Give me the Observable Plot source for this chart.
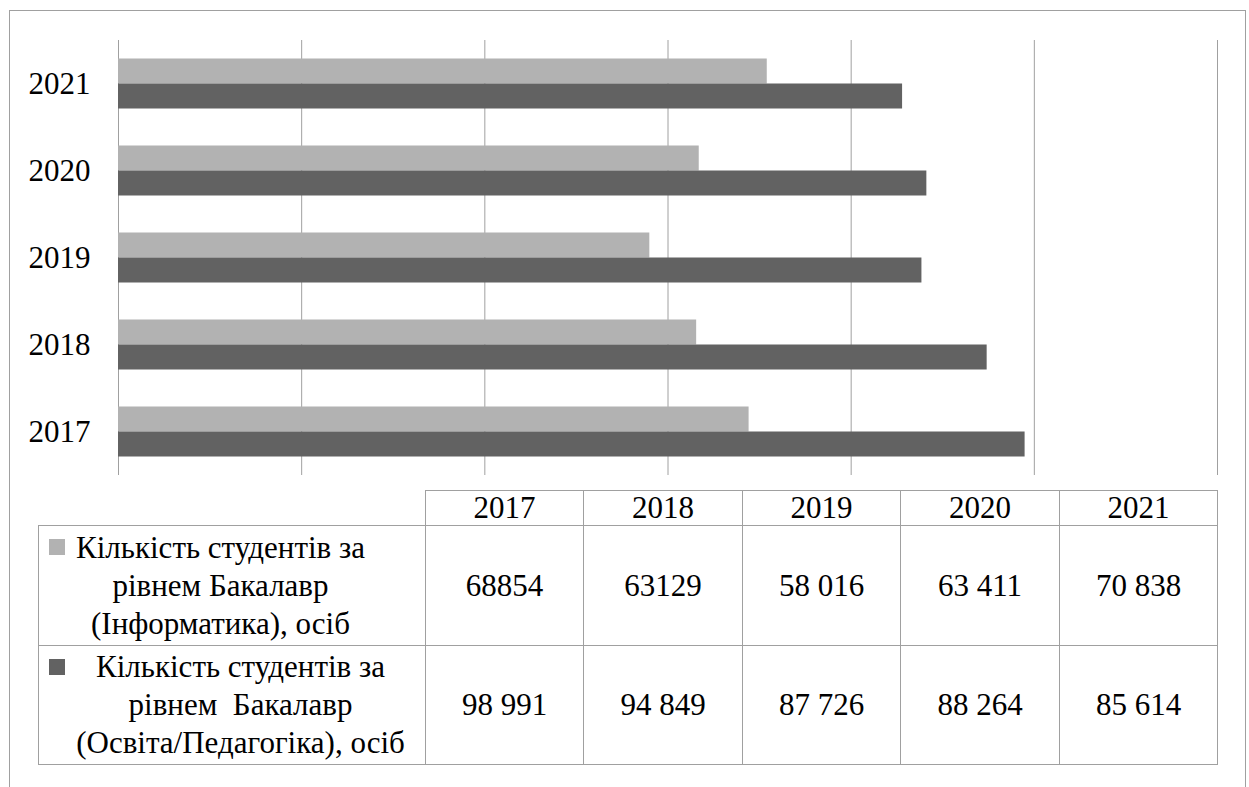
<!DOCTYPE html>
<html>
<head>
<meta charset="utf-8">
<script src="https://cdn.jsdelivr.net/npm/d3@7"></script>
<script src="https://cdn.jsdelivr.net/npm/@observablehq/plot@0.6"></script>
<style>
  html, body { margin: 0; padding: 0; background: #fff; }
  body { width: 1249px; height: 787px; position: relative; overflow: hidden; font-family: "Liberation Serif", "Times New Roman", serif; }
  #frame { position: absolute; left: 9px; top: 10px; width: 1237px; height: 800px; border: 1px solid #a0a0a0; border-bottom: none; box-sizing: border-box; }
  #chart { position: absolute; left: 0; top: 0; }
  #tbl { position: absolute; left: 38px; top: 490px; border-collapse: collapse; table-layout: fixed; color: #000; }
  #tbl td { border: 1px solid #a0a0a0; padding: 0; text-align: center; vertical-align: middle; font-size: 31px; }
  #tbl td.blank { border: none; }
  #tbl tr.head td { height: 34px; line-height: 34px; }
  #tbl tr.row1 td { height: 119px; }
  #tbl tr.row2 td { height: 118px; }
  .legcell { position: relative; }
  .key { position: absolute; left: 10px; top: 13px; width: 16px; height: 16px; }
  .legtext { line-height: 38px; white-space: pre; }
</style>
</head>
<body>
<div id="frame"></div>
<div id="chart"></div>
<table id="tbl"></table>
<script>
// ---- data ----
const years = ["2017", "2018", "2019", "2020", "2021"];
const informatika = [68854, 63129, 58016, 63411, 70838];
const pedagogika = [98991, 94849, 87726, 88264, 85614];
const informatikaLabels = ["68854", "63129", "58 016", "63 411", "70 838"];
const pedagogikaLabels = ["98 991", "94 849", "87 726", "88 264", "85 614"];
const seriesNames = [
  "Кількість студентів за\nрівнем Бакалавр\n(Інформатика), осіб",
  "Кількість студентів за\nрівнем  Бакалавр\n(Освіта/Педагогіка), осіб"
];
const seriesColors = ["#b2b2b2", "#626262"];
const xTicks = [0, 20000, 40000, 60000, 80000, 100000, 120000];

const rowsA = years.map((y, i) => ({year: y, value: informatika[i]}));
const rowsB = years.map((y, i) => ({year: y, value: pedagogika[i]}));

const chart = Plot.plot({
  width: 1249,
  height: 480,
  marginLeft: 118,
  marginRight: 32,
  marginTop: 40,
  marginBottom: 5,
  style: {fontFamily: '"Liberation Serif", "Times New Roman", serif', color: "#000", background: "transparent"},
  x: {domain: [0, 120000], axis: null},
  y: {domain: years.slice().reverse(), padding: 0, label: null},
  marks: [
    Plot.gridX(xTicks, {stroke: "#a0a0a0", strokeOpacity: 1, strokeWidth: 1}),
    Plot.barX(rowsA, {x: "value", y: "year", fill: seriesColors[0], insetTop: 18.5, insetBottom: 43.5}),
    Plot.barX(rowsB, {x: "value", y: "year", fill: seriesColors[1], insetTop: 43.5, insetBottom: 18.5}),
    Plot.axisY({tickSize: 0, tickPadding: 28, fontSize: 31, fill: "#000", label: null})
  ]
});
document.getElementById("chart").appendChild(chart);

// ---- data table with legend keys ----
const tbl = document.getElementById("tbl");
const cg = document.createElement("colgroup");
[387, 158, 159, 158, 159, 158].forEach(w => {
  const c = document.createElement("col"); c.style.width = w + "px"; cg.appendChild(c);
});
tbl.appendChild(cg);
const head = document.createElement("tr"); head.className = "head";
const blank = document.createElement("td"); blank.className = "blank"; head.appendChild(blank);
years.forEach(y => { const td = document.createElement("td"); td.textContent = y; head.appendChild(td); });
tbl.appendChild(head);
const pads = [["0px", "23px"], ["17px", "0px"]];
[informatikaLabels, pedagogikaLabels].forEach((labels, si) => {
  const tr = document.createElement("tr"); tr.className = "row" + (si + 1);
  const lc = document.createElement("td"); lc.className = "legcell";
  const key = document.createElement("div"); key.className = "key"; key.style.background = seriesColors[si];
  const txt = document.createElement("div"); txt.className = "legtext";
  txt.style.paddingLeft = pads[si][0]; txt.style.paddingRight = pads[si][1];
  txt.textContent = seriesNames[si];
  lc.appendChild(key); lc.appendChild(txt); tr.appendChild(lc);
  labels.forEach(l => { const td = document.createElement("td"); td.textContent = l; tr.appendChild(td); });
  tbl.appendChild(tr);
});
</script>
</body>
</html>
